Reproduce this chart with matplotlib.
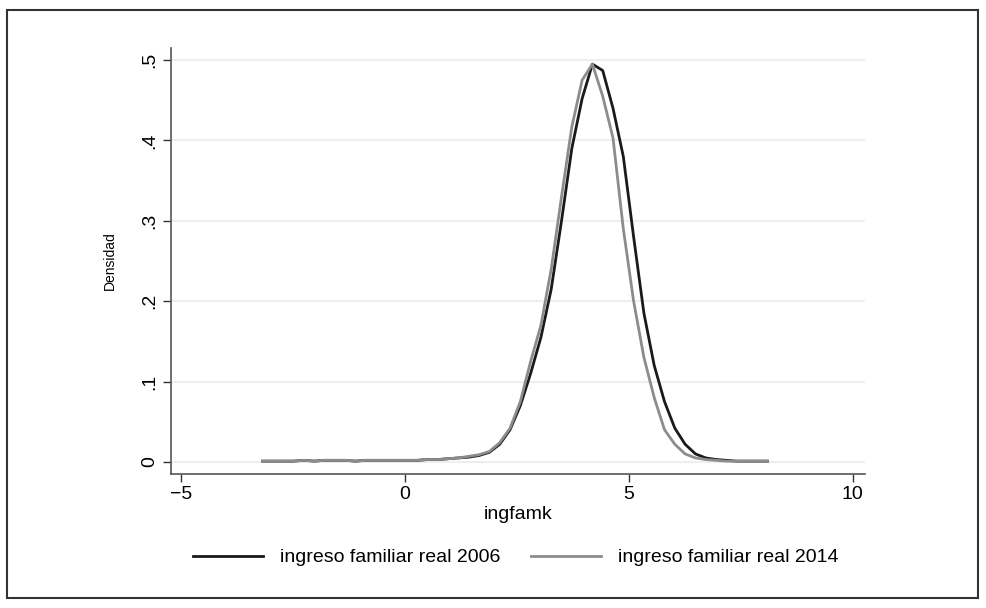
import numpy as np
import matplotlib.pyplot as plt
from matplotlib.patches import Rectangle

plt.rcParams['font.family'] = ['Liberation Sans', 'DejaVu Sans']

# kdensity evaluation grid (50 points) and estimated densities
grid = np.linspace(-3.17, 8.10, 50)

dens_2006 = [0.001, 0.001, 0.001, 0.001, 0.002, 0.001, 0.002, 0.002, 0.002, 0.001,
             0.002, 0.002, 0.002, 0.002, 0.002, 0.002, 0.003, 0.003, 0.004, 0.005,
             0.006, 0.008, 0.012, 0.022, 0.040, 0.070, 0.110, 0.155, 0.215, 0.300,
             0.390, 0.452, 0.495, 0.487, 0.440, 0.380, 0.280, 0.185, 0.120, 0.075,
             0.042, 0.022, 0.010, 0.005, 0.003, 0.002, 0.001, 0.001, 0.001, 0.001]

dens_2014 = [0.001, 0.001, 0.001, 0.001, 0.002, 0.001, 0.002, 0.002, 0.002, 0.001,
             0.002, 0.002, 0.002, 0.002, 0.002, 0.002, 0.003, 0.003, 0.004, 0.005,
             0.007, 0.009, 0.013, 0.024, 0.042, 0.075, 0.125, 0.170, 0.240, 0.330,
             0.417, 0.475, 0.495, 0.455, 0.403, 0.290, 0.200, 0.130, 0.080, 0.040,
             0.022, 0.010, 0.005, 0.003, 0.002, 0.001, 0.001, 0.001, 0.001, 0.001]

xticks = [-5, 0, 5, 10]
yticks = [0, 0.1, 0.2, 0.3, 0.4, 0.5]
ytick_labels = ["0", ".1", ".2", ".3", ".4", ".5"]

fig = plt.figure(figsize=(9.86, 6.08), dpi=100)
ax = fig.add_axes([0.1734, 0.2204, 0.7036, 0.7006])

for y in yticks:
    ax.axhline(y, color="#eceff0", lw=1.5, zorder=0)

ax.plot(grid, dens_2006, color="#1a1a1a", lw=2, label="ingreso familiar real 2006")
ax.plot(grid, dens_2014, color="#8c8c8c", lw=2, label="ingreso familiar real 2014")

ax.set_xlim(-5.22, 10.27)
ax.set_ylim(-0.015, 0.515)
ax.set_xticks(xticks)
ax.set_yticks(yticks)
ax.set_yticklabels(ytick_labels, rotation=90, va="center")
ax.tick_params(axis="both", labelsize=14, color="#333333", length=6, width=1, pad=3)
ax.spines["top"].set_visible(False)
ax.spines["right"].set_visible(False)
for s in ["left", "bottom"]:
    ax.spines[s].set_color("#555555")
    ax.spines[s].set_linewidth(1.2)

ax.set_xlabel("ingfamk", fontsize=14, labelpad=2)
ax.set_ylabel("Densidad", fontsize=10, labelpad=18)

fig.legend(loc="center", bbox_to_anchor=(0.523, 0.083), ncol=2, frameon=False,
           fontsize=14, handlelength=3.6, columnspacing=1.6, handletextpad=0.85)

fig.patches.append(Rectangle((0.007, 0.016), 0.985, 0.968, transform=fig.transFigure,
                             fill=False, edgecolor="#333333", lw=1.5))

fig.savefig("out.png", dpi=100)
